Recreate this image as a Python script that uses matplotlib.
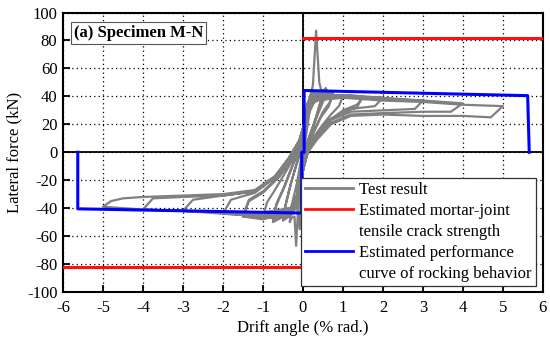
import matplotlib
matplotlib.use("Agg")
import matplotlib.pyplot as plt
from matplotlib.lines import Line2D
import numpy as np

plt.rcParams['font.family'] = ['Liberation Serif', 'DejaVu Serif']
plt.rcParams['axes.unicode_minus'] = False

# ---------------- data ----------------
x_ticks = [-6, -5, -4, -3, -2, -1, 0, 1, 2, 3, 4, 5, 6]
y_ticks = [-100, -80, -60, -40, -20, 0, 20, 40, 60, 80, 100]

# estimated mortar-joint tensile crack strength
crack_pos_x = [0, 6]
crack_pos_y = [82, 82]
crack_neg_x = [-6, 0]
crack_neg_y = [-82, -82]

# estimated performance curve of rocking behaviour
rock_x = [-5.63, -5.63, -0.03, -0.03, 0.03, 0.03, 5.62, 5.66]
rock_y = [0, -40.5, -43.5, 0, 0, 44.2, 40.5, 0]

# test result, cycle by cycle
c01_x = [0, 0.05, 0.10, 0.05, 0, -0.05, -0.10, -0.05, 0]
c01_y = [0, 14, 24, 12, 0, -14, -26, -12, 0]
c02_x = [0, 0.06, 0.12, 0.20, 0.14, 0.06, 0, -0.06, -0.13, -0.20, -0.14, -0.06, 0]
c02_y = [0, 18, 30, 36, 24, 8, -4, -20, -33, -40, -28, -10, 0]
c03_x = [0, 0.08, 0.18, 0.25, 0.33, 0.41, 0.46, 0.52, 0.57, 0.62, 0.50, 0.30, 0.12, 0.02,
         -0.05, -0.12, -0.17, -0.21, -0.28, -0.33, -0.28, -0.15, -0.05, 0.0]
c03_y = [0, 25, 40, 48, 87, 50, 44, 44, 46, 43, 36, 22, 8, -5,
         -25, -40, -67, -46, -47, -50, -38, -22, -6, 2]
c04_x = [0.0, 0.05, 0.12, 0.25, 0.50, 0.42, 0.30, 0.15, 0.04, -0.03, -0.08, -0.15, -0.30, -0.50,
         -0.42, -0.30, -0.15, -0.02]
c04_y = [2, 18, 32, 40, 42, 34, 22, 10, 0, -22, -55, -38, -45, -47, -36, -22, -8, 4]
c04b_x = [-0.02, 0.04, 0.10, 0.22, 0.50, 0.45, 0.35, 0.20, 0.06, -0.02, -0.10, -0.25, -0.50,
          -0.45, -0.35, -0.20, -0.05]
c04b_y = [4, 20, 34, 42, 44, 37, 27, 14, 2, -15, -33, -44, -49, -40, -28, -12, 2]
c05_x = [-0.02, 0.06, 0.15, 0.35, 0.75, 0.65, 0.45, 0.25, 0.07, -0.02, -0.12, -0.30, -0.75,
         -0.65, -0.45, -0.25, -0.08]
c05_y = [4, 20, 33, 41, 42, 33, 25, 13, 0, -18, -34, -44, -48, -36, -24, -9, 3]
c05b_x = [-0.08, 0.04, 0.12, 0.30, 0.75, 0.68, 0.50, 0.30, 0.10, 0.0, -0.10, -0.28, -0.75,
          -0.68, -0.50, -0.30, -0.10]
c05b_y = [3, 22, 35, 42, 43, 36, 29, 17, 3, -12, -30, -43, -50, -39, -27, -12, 1]
c06_x = [-0.08, 0.06, 0.15, 0.30, 0.60, 1.00, 0.90, 0.70, 0.45, 0.25, 0.08, -0.03, -0.12,
         -0.30, -0.60, -1.00, -0.90, -0.70, -0.45, -0.25, -0.05]
c06_y = [3, 16, 30, 38, 41, 40, 33, 27, 18, 10, 0, -18, -32, -42, -47, -47, -36, -27, -15, -5, 6]
c07_x = [-0.05, 0.06, 0.15, 0.30, 0.80, 1.50, 1.35, 1.00, 0.60, 0.30, 0.10, -0.02, -0.12,
         -0.30, -0.80, -1.50, -1.35, -1.00, -0.60, -0.30, -0.10]
c07_y = [6, 18, 30, 38, 41, 40, 32, 29, 22, 10, 0, -15, -32, -42, -47, -46, -34, -28, -17, -5, 6]
c08_x = [-0.10, 0.05, 0.20, 0.40, 1.00, 2.00, 1.80, 1.20, 0.70, 0.35, 0.12, -0.02, -0.12,
         -0.30, -1.00, -2.00, -1.80, -1.20, -0.70, -0.35, -0.10]
c08_y = [6, 22, 35, 39, 41, 39, 33, 31, 24, 12, 0, -16, -31, -42, -46, -44, -34, -29, -18, -5, 7]
c09_x = [-0.10, 0.05, 0.20, 0.40, 1.00, 1.50, 1.35, 1.00, 0.60, 0.30, 0.10, -0.03, -0.14,
         -0.35, -1.00, -1.50, -1.35, -1.00, -0.60, -0.30, -0.08]
c09_y = [7, 21, 34, 39, 40, 39, 34, 30, 21, 9, 0, -17, -33, -43, -48, -46, -35, -29, -18, -6, 5]
c10_x = [-0.08, 0.05, 0.20, 0.40, 1.00, 2.00, 3.00, 2.80, 2.00, 1.20, 0.70, 0.35, 0.12,
         -0.02, -0.10, -0.30, -1.00, -2.00, -3.00, -2.75, -2.00, -1.20, -0.70, -0.35, -0.10]
c10_y = [5, 22, 34, 38, 40, 39, 37, 31, 30, 29, 23, 11, 0,
         -15, -30, -42, -45, -44, -42, -34, -31, -28, -18, -5, 7]
c11_x = [-0.10, 0.05, 0.20, 0.40, 1.00, 2.00, 3.00, 4.00, 3.70, 3.00, 2.00, 1.20, 0.70,
         0.35, 0.12, -0.02, -0.10, -0.30, -1.00, -2.00, -3.00, -4.00, -3.75, -3.00, -2.00,
         -1.20, -0.70, -0.35, -0.10]
c11_y = [7, 22, 34, 38, 40, 38, 37, 35, 29, 29, 28, 27, 21,
         10, 0, -14, -28, -40, -44, -43, -42, -41, -33, -32, -31, -28, -18, -4, 8]
c12_x = [-0.10, 0.05, 0.30, 1.00, 2.00, 3.00, 4.00, 5.00, 4.70, 4.00, 3.00, 2.00, 1.20,
         0.70, 0.35, 0.12, -0.02, -0.10, -0.30, -1.00, -2.00, -3.00, -4.00, -5.00, -4.80,
         -4.50, -4.00, -3.00, -2.00, -1.20, -0.70, -0.35, -0.10, 0.0]
c12_y = [8, 22, 37, 39, 37, 36, 34, 33, 25, 26, 26, 27, 26,
         20, 9, 0, -13, -28, -40, -43, -43, -42, -41, -39, -35,
         -33, -32, -31, -30, -27, -17, -4, 8, 12]

cycles_x = [c01_x, c02_x, c03_x, c04_x, c04b_x, c05_x, c05b_x, c06_x, c07_x, c08_x,
            c09_x, c10_x, c11_x, c12_x]
cycles_y = [c01_y, c02_y, c03_y, c04_y, c04b_y, c05_y, c05b_y, c06_y, c07_y, c08_y,
            c09_y, c10_y, c11_y, c12_y]

# ---------------- figure ----------------
fig = plt.figure(figsize=(5.5, 3.48), dpi=100)
ax = fig.add_axes([0.1145, 0.161, 0.8725, 0.803])

test_x = np.concatenate(cycles_x)
test_y = np.concatenate(cycles_y)
ax.plot(test_x, test_y, color='#808080', lw=1.6, zorder=3)

ax.plot(crack_pos_x, crack_pos_y, color='#ff1010', lw=2.2, zorder=4)
ax.plot(crack_neg_x, crack_neg_y, color='#ff1010', lw=2.2, zorder=4)
ax.plot(rock_x, rock_y, color='#0000ff', lw=2.2, zorder=5)

ax.axhline(0, color='black', lw=1.3, zorder=2)
ax.axvline(0, color='black', lw=1.3, zorder=2)

ax.set_xlim(-6, 6)
ax.set_ylim(-100, 100)
ax.set_xticks(x_ticks)
ax.set_yticks(y_ticks)
ax.set_xticklabels([str(v) for v in x_ticks])
ax.set_yticklabels([str(v) for v in y_ticks])
ax.grid(True, color='black', linestyle=(0, (1, 2.5)), lw=0.9, zorder=1)
ax.tick_params(direction='in', length=5, width=1.3, labelsize=12, pad=4)
ax.tick_params(axis='x', pad=6)
for s in ax.spines.values():
    s.set_linewidth(1.5)

ax.set_xlabel('Drift angle (% rad.)', fontsize=12, labelpad=3)
ax.set_ylabel('Lateral force (kN)', fontsize=12, labelpad=3)

ax.text(0.022, 0.928, '(a) Specimen M-N', transform=ax.transAxes, fontsize=12,
        fontweight='bold', va='center', ha='left', zorder=10,
        bbox=dict(boxstyle='square,pad=0.18', fc='white', ec='#555555', lw=0.8))

handles = [
    Line2D([], [], color='#808080', lw=2),
    Line2D([], [], color='#ff1010', lw=2),
    Line2D([], [], color='none'),
    Line2D([], [], color='#0000ff', lw=2),
    Line2D([], [], color='none'),
]
labels = ['Test result', 'Estimated mortar-joint', 'tensile crack strength',
          'Estimated performance', 'curve of rocking behavior']
leg = ax.legend(handles, labels, loc='lower right', bbox_to_anchor=(0.985, 0.021),
                borderaxespad=0, fontsize=12, frameon=True, fancybox=False,
                edgecolor='#333333', framealpha=1, handlelength=2.9, handletextpad=0.35,
                labelspacing=0.3, borderpad=0.25)
leg.get_frame().set_linewidth(0.9)
leg.set_zorder(20)

fig.savefig('out.png', dpi=100)
